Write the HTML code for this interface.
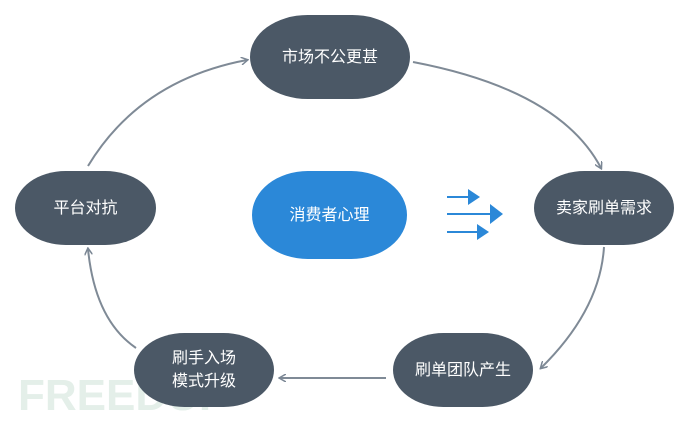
<!DOCTYPE html>
<html><head><meta charset="utf-8"><style>
body{margin:0;width:690px;height:423px;background:#fff;position:relative;overflow:hidden;font-family:"Liberation Sans","Noto Sans CJK SC",sans-serif}
.n{position:absolute;background:#4b5866;color:#fff;border-radius:36%/50%;display:flex;align-items:center;justify-content:center;text-align:center;font-size:16px;line-height:23px}
svg{position:absolute;left:0;top:0}
</style></head><body>
<svg width="690" height="423">
<defs><marker id="a" markerWidth="8" markerHeight="8" refX="6" refY="4" orient="auto" markerUnits="userSpaceOnUse"><path d="M0,0 L7,4 L0,8" fill="none" stroke="#7a8694" stroke-width="1.5"/></marker></defs>
<g fill="none" stroke="#7f8a96" stroke-width="2">
<path d="M88,166 Q140,80 247,60" marker-end="url(#a)"/>
<path d="M413,62 Q560,90 601,168" marker-end="url(#a)"/>
<path d="M604,247 Q600,310 541,368" marker-end="url(#a)"/>
<path d="M386,378 L280,378" marker-end="url(#a)"/>
<path d="M136,348 Q95,320 88,249" marker-end="url(#a)"/>
</g>
<g stroke="#2b88d8" stroke-width="2" fill="#2b88d8">
<line x1="447" y1="197" x2="468" y2="197"/><path d="M468,189 L480,197 L468,205Z" stroke="none"/>
<line x1="447" y1="214" x2="490" y2="214"/><path d="M490,204 L503,214 L490,224Z" stroke="none"/>
<line x1="447" y1="232" x2="477" y2="232"/><path d="M477,224 L489,232 L477,240Z" stroke="none"/>
</g>
<text x="18" y="410" font-family="Liberation Sans" font-weight="bold" font-size="44" fill="#e4efe9">FREEDUF</text>
</svg>
<div class="n" style="left:250px;top:15px;width:160px;height:84px">市场不公更甚</div>
<div class="n" style="left:15px;top:171px;width:141px;height:74px">平台对抗</div>
<div class="n" style="left:252px;top:171px;width:155px;height:88px;background:#2b88d8">消费者心理</div>
<div class="n" style="left:534px;top:171px;width:140px;height:74px">卖家刷单需求</div>
<div class="n" style="left:393px;top:333px;width:140px;height:74px">刷单团队产生</div>
<div class="n" style="left:134px;top:333px;width:140px;height:74px">刷手入场<br>模式升级</div>
</body></html>
